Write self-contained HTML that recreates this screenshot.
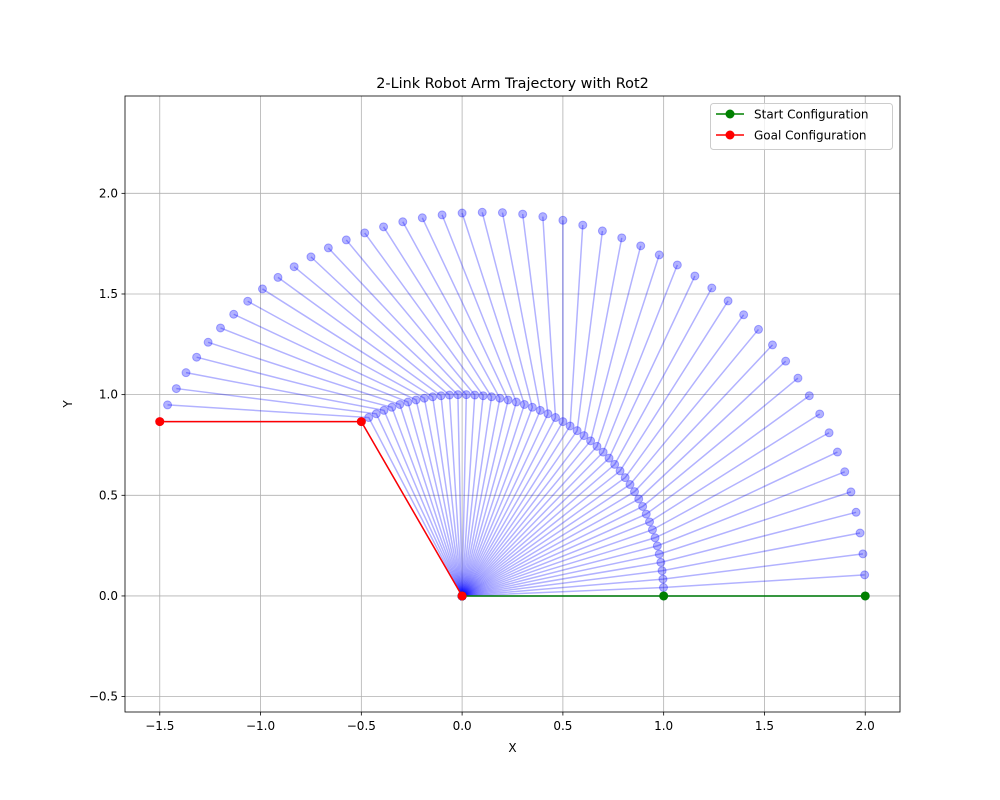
<!DOCTYPE html>
<html><head><meta charset="utf-8"><style>
body{margin:0;background:#fff}
svg{display:block;font-family:"DejaVu Sans","Liberation Sans",sans-serif}
</style></head><body>
<svg id="chart" width="1000" height="800"></svg>
<script>
const theta1Deg=[0,2.4,4.8,7.2,9.6,12,14.4,16.8,19.2,21.6,24,26.4,28.8,31.2,33.6,36,38.4,40.8,43.2,45.6,48,50.4,52.8,55.2,57.6,60,62.4,64.8,67.2,69.6,72,74.4,76.8,79.2,81.6,84,86.4,88.8,91.2,93.6,96,98.4,100.8,103.2,105.6,108,110.4,112.8,115.2,117.6,120];
const theta2Deg=[0,1.2,2.4,3.6,4.8,6,7.2,8.4,9.6,10.8,12,13.2,14.4,15.6,16.8,18,19.2,20.4,21.6,22.8,24,25.2,26.4,27.6,28.8,30,31.2,32.4,33.6,34.8,36,37.2,38.4,39.6,40.8,42,43.2,44.4,45.6,46.8,48,49.2,50.4,51.6,52.8,54,55.2,56.4,57.6,58.8,60];
const linkLengths=[1,1];
const xTicks=[-1.5,-1.0,-0.5,0.0,0.5,1.0,1.5,2.0];
const yTicks=[-0.5,0.0,0.5,1.0,1.5,2.0];
const xTickLabels=["\u22121.5","\u22121.0","\u22120.5","0.0","0.5","1.0","1.5","2.0"];
const yTickLabels=["\u22120.5","0.0","0.5","1.0","1.5","2.0"];
const xDomain=[-1.6725,2.1725], yDomain=[-0.5765,2.4835];
const L=125,R=900,T=96,B=712;
const sx=v=>L+(v-xDomain[0])/(xDomain[1]-xDomain[0])*(R-L);
const sy=v=>B-(v-yDomain[0])/(yDomain[1]-yDomain[0])*(B-T);
const svg=document.getElementById('chart');
const NS='http://www.w3.org/2000/svg';
function mk(tag,attrs,parent){const e=document.createElementNS(NS,tag);for(const k in attrs)e.setAttribute(k,attrs[k]);(parent||svg).appendChild(e);return e;}
mk('rect',{x:0,y:0,width:1000,height:800,fill:'#fff'});
const grid=mk('g',{});


xTicks.forEach((t,i)=>{
  mk('line',{x1:sx(t),x2:sx(t),y1:T,y2:B,stroke:'#b0b0b0','stroke-width':0.8},grid);
  mk('line',{x1:sx(t),x2:sx(t),y1:B,y2:B+3.5,stroke:'#000','stroke-width':0.8});
  const tx=mk('text',{x:sx(t),y:B+18,'text-anchor':'middle','font-size':12});
  tx.textContent=xTickLabels[i];
  
  
});
yTicks.forEach((t,i)=>{
  mk('line',{x1:L,x2:R,y1:sy(t),y2:sy(t),stroke:'#b0b0b0','stroke-width':0.8},grid);
  mk('line',{x1:L-3.5,x2:L,y1:sy(t),y2:sy(t),stroke:'#000','stroke-width':0.8});
  const tx=mk('text',{x:L-7,y:sy(t)+4,'text-anchor':'end','font-size':12});
  tx.textContent=yTickLabels[i];
  
  
});
const traj=mk('g',{});


function pose(i){
  const a=theta1Deg[i]*Math.PI/180,b=(theta1Deg[i]+theta2Deg[i])*Math.PI/180;
  const ex=linkLengths[0]*Math.cos(a),ey=linkLengths[0]*Math.sin(a);
  return [[0,0],[ex,ey],[ex+linkLengths[1]*Math.cos(b),ey+linkLengths[1]*Math.sin(b)]];
}
theta1Deg.forEach((_,i)=>{
  const p=pose(i);
  const g=mk('g',{},traj);
  
  
  mk('polyline',{points:p.map(q=>sx(q[0])+','+sy(q[1])).join(' '),fill:'none',stroke:'#0000ff','stroke-width':1.5,'stroke-opacity':0.3},g);
  p.forEach(q=>mk('circle',{cx:sx(q[0]),cy:sy(q[1]),r:4,fill:'#0000ff','fill-opacity':0.3,stroke:'#0000ff','stroke-opacity':0.3,'stroke-width':1},g));
});
function drawConfig(i,color,name){
  const p=pose(i);
  const g=mk('g',{});
  
  
  mk('polyline',{points:p.map(q=>sx(q[0])+','+sy(q[1])).join(' '),fill:'none',stroke:color,'stroke-width':1.5},g);
  p.forEach(q=>mk('circle',{cx:sx(q[0]),cy:sy(q[1]),r:4.5,fill:color},g));
}
drawConfig(0,'#008000','start-configuration');
drawConfig(theta1Deg.length-1,'#ff0000','goal-configuration');
const frame=mk('rect',{x:L,y:T,width:R-L,height:B-T,fill:'none',stroke:'#000','stroke-width':0.8});


const title=mk('text',{x:(L+R)/2,y:88,'text-anchor':'middle','font-size':14.4});
title.textContent='2-Link Robot Arm Trajectory with Rot2';


const xl=mk('text',{x:(L+R)/2,y:752,'text-anchor':'middle','font-size':12});
xl.textContent='X';


const yl=mk('text',{x:72,y:404,'text-anchor':'middle','font-size':12,transform:'rotate(-90 72 404)'});
yl.textContent='Y';


const leg=mk('g',{});


mk('rect',{x:710.5,y:103.5,width:182,height:46,rx:3,fill:'#fff','fill-opacity':0.8,stroke:'#ccc'},leg);
[['Start Configuration','#008000',114],['Goal Configuration','#ff0000',135]].forEach(([t,c,y])=>{
  const e=mk('g',{},leg);
  
  
  mk('line',{x1:716,x2:744,y1:y,y2:y,stroke:c,'stroke-width':1.5},e);
  mk('circle',{cx:730,cy:y,r:4.5,fill:c},e);
  const tx=mk('text',{x:754,y:y+4.5,'font-size':12},e);
  tx.textContent=t;
});
</script>
</body></html>
